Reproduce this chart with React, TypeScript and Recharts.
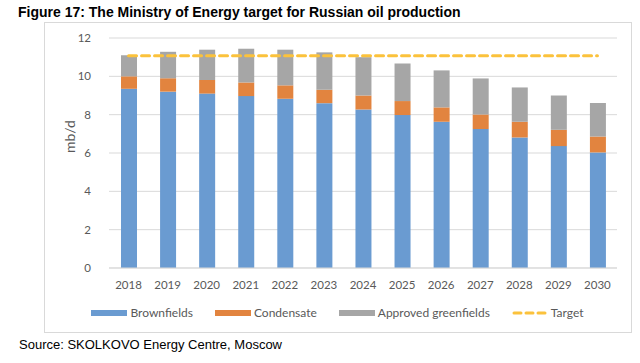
import {
  ComposedChart, Bar, Line, XAxis, YAxis, CartesianGrid, Legend,
} from 'recharts';

const years = ['2018', '2019', '2020', '2021', '2022', '2023', '2024', '2025', '2026', '2027', '2028', '2029', '2030'];
const brownfields = [9.35, 9.2, 9.1, 8.97, 8.83, 8.6, 8.27, 7.98, 7.63, 7.25, 6.81, 6.36, 6.03];
const condensate = [0.65, 0.7, 0.71, 0.71, 0.7, 0.7, 0.73, 0.73, 0.75, 0.76, 0.82, 0.85, 0.83];
const greenfields = [1.1, 1.38, 1.58, 1.76, 1.86, 1.95, 2.0, 1.96, 1.93, 1.88, 1.79, 1.79, 1.75];
const target = [11.07, 11.07, 11.07, 11.07, 11.07, 11.07, 11.07, 11.07, 11.07, 11.07, 11.07, 11.07, 11.07];
const yTicks = [0, 2, 4, 6, 8, 10, 12];

const BLUE = '#6a9bd1';
const ORANGE = '#e2843f';
const GREY = '#a6a6a6';
const YELLOW = '#fbc23c';

const legendItems = [
  { label: 'Brownfields', color: BLUE, dashed: false },
  { label: 'Condensate', color: ORANGE, dashed: false },
  { label: 'Approved greenfields', color: GREY, dashed: false },
  { label: 'Target', color: YELLOW, dashed: true },
];

function ChartLegend() {
  return (
    <div style={{ display: 'flex', justifyContent: 'center', gap: 22, marginTop: 7, marginLeft: 13, fontFamily: 'Lato', fontSize: 12, color: '#595959' }}>
      {legendItems.map((it) => (
        <div key={it.label} style={{ display: 'flex', alignItems: 'center', gap: 3 }}>
          <svg width={36} height={8}>
            {it.dashed
              ? <line x1={2} y1={4} x2={34} y2={4} stroke={it.color} strokeWidth={3} strokeDasharray="7 5" strokeLinecap="round" />
              : <rect x={0} y={1} width={36} height={6} fill={it.color} />}
          </svg>
          <span>{it.label}</span>
        </div>
      ))}
    </div>
  );
}

export default function App() {
  const data = years.map((y, i) => ({
    year: y,
    brownfields: brownfields[i],
    condensate: condensate[i],
    greenfields: greenfields[i],
    target: target[i],
  }));

  return (
    <div style={{ position: 'absolute', left: 0, top: 0, width: 640, height: 363, background: '#fff', fontFamily: '"Liberation Sans", Arial, sans-serif' }}>
      <div style={{ position: 'absolute', left: 18, top: 4, fontSize: 14, fontWeight: 'bold', color: '#000' }}>
        Figure 17: The Ministry of Energy target for Russian oil production
      </div>
      <div style={{ position: 'absolute', left: 44, top: 22, width: 586, height: 309, border: '1px solid #d9d9d9' }}>
        <ComposedChart width={586} height={309} data={data} margin={{ top: 15, right: 14, left: 0, bottom: 0 }}>
          <CartesianGrid stroke="#d9d9d9" vertical={false} />
          <XAxis
            dataKey="year"
            axisLine={{ stroke: '#d9d9d9' }}
            tickLine={false}
            tick={{ fontSize: 11.5, fill: '#595959', fontFamily: 'Lato' }}
            tickMargin={7}
            height={30}
          />
          <YAxis
            domain={[0, 12]}
            ticks={yTicks}
            axisLine={false}
            tickLine={false}
            width={64}
            tickMargin={12}
            tick={{ fontSize: 11.5, fill: '#595959', fontFamily: 'Lato' }}
            label={{ value: 'mb/d', angle: -90, position: 'insideLeft', offset: 25, style: { fontSize: 14, fill: '#595959', fontFamily: 'Lato' } }}
          />
          <Legend verticalAlign="bottom" height={34} content={<ChartLegend />} />
          <Bar dataKey="brownfields" stackId="a" fill={BLUE} barSize={16} isAnimationActive={false} />
          <Bar dataKey="condensate" stackId="a" fill={ORANGE} barSize={16} isAnimationActive={false} />
          <Bar dataKey="greenfields" stackId="a" fill={GREY} barSize={16} isAnimationActive={false} />
          <Line dataKey="target" type="linear" stroke={YELLOW} strokeWidth={3} strokeDasharray="8 5" strokeLinecap="round" dot={false} isAnimationActive={false} />
        </ComposedChart>
      </div>
      <div style={{ position: 'absolute', left: 19, top: 337, fontSize: 13, color: '#000' }}>
        Source: SKOLKOVO Energy Centre, Moscow
      </div>
    </div>
  );
}
